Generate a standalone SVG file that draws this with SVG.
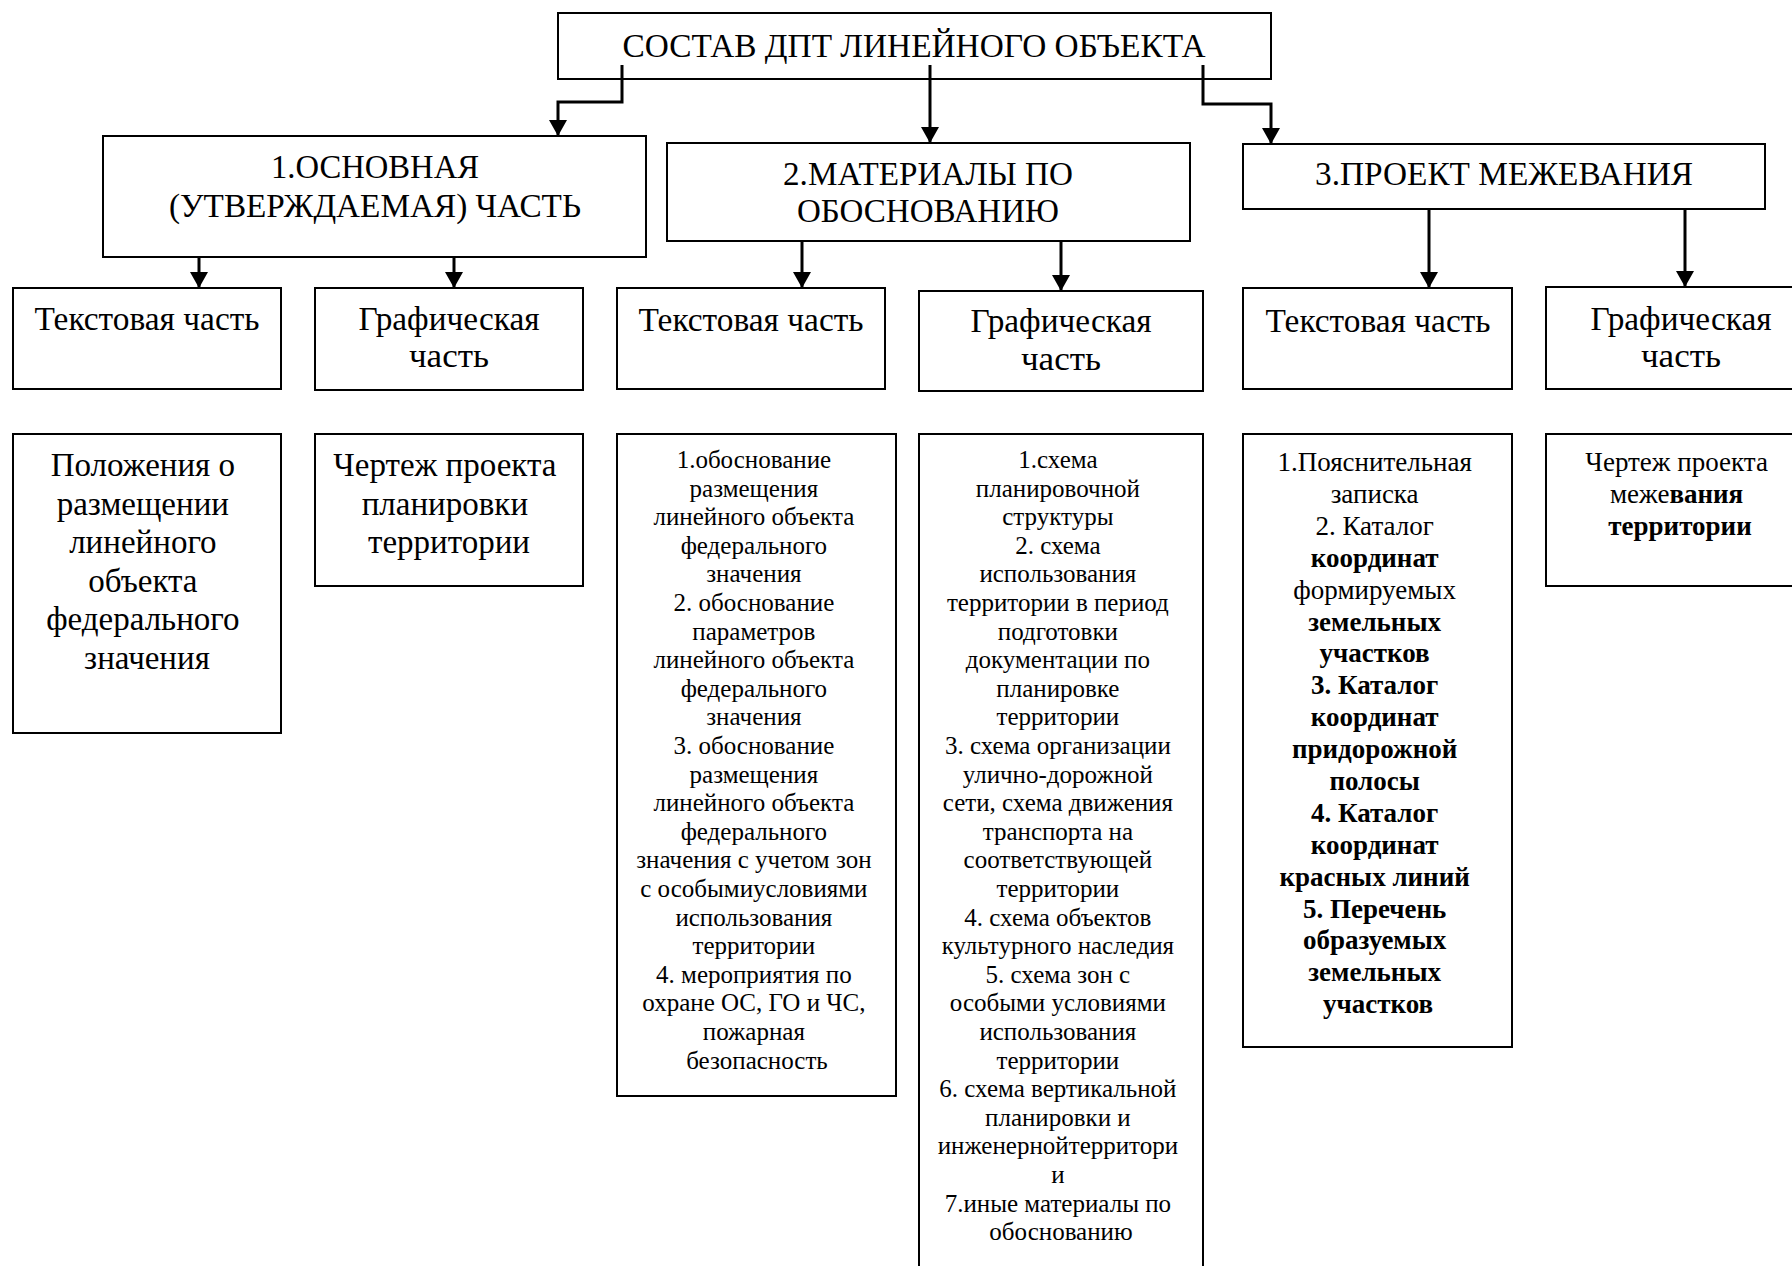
<svg xmlns="http://www.w3.org/2000/svg" width="1792" height="1266" viewBox="0 0 1792 1266">
<style>
.box{fill:#fff;stroke:#000;stroke-width:2}
.t{font-family:"Liberation Serif","Times New Roman",serif;fill:#000;text-anchor:middle}
.h{font-size:34px}
.m{font-size:33px}
.s{font-size:25px}
.k{font-size:27px}
.b{font-weight:bold}
.c{fill:none;stroke:#000;stroke-width:3}
</style>
<defs>
<marker id="ar" viewBox="0 0 16 18" refX="16" refY="9" markerWidth="16" markerHeight="18" markerUnits="userSpaceOnUse" orient="auto">
<path d="M0,0 L16,9 L0,18 z" fill="#000"/>
</marker>
</defs>
<rect width="1792" height="1266" fill="#fff"/>

<g id="root">
<rect class="box" x="558" y="13" width="713" height="66"/>
<text class="t h" x="914" y="57" textLength="583" lengthAdjust="spacingAndGlyphs">СОСТАВ ДПТ ЛИНЕЙНОГО ОБЪЕКТА</text>
</g>

<g id="main1">
<rect class="box" x="103" y="136" width="543" height="121"/>
<text class="t h" x="375" y="178" textLength="208" lengthAdjust="spacingAndGlyphs">1.ОСНОВНАЯ</text>
<text class="t h" x="375" y="217" textLength="412" lengthAdjust="spacingAndGlyphs">(УТВЕРЖДАЕМАЯ) ЧАСТЬ</text>
</g>
<g id="main2">
<rect class="box" x="667" y="143" width="523" height="98"/>
<text class="t h" x="928" y="185" textLength="290" lengthAdjust="spacingAndGlyphs">2.МАТЕРИАЛЫ ПО</text>
<text class="t h" x="928" y="222" textLength="262" lengthAdjust="spacingAndGlyphs">ОБОСНОВАНИЮ</text>
</g>
<g id="main3">
<rect class="box" x="1243" y="144" width="522" height="65"/>
<text class="t h" x="1504" y="185" textLength="378" lengthAdjust="spacingAndGlyphs">3.ПРОЕКТ МЕЖЕВАНИЯ</text>
</g>

<g id="text1">
<rect class="box" x="13" y="288" width="268" height="101"/>
<text class="t h" x="147" y="330" textLength="225" lengthAdjust="spacingAndGlyphs">Текстовая часть</text>
</g>
<g id="graph1">
<rect class="box" x="315" y="288" width="268" height="102"/>
<text class="t h" x="449" y="330" textLength="181" lengthAdjust="spacingAndGlyphs">Графическая</text>
<text class="t h" x="449" y="367" textLength="80" lengthAdjust="spacingAndGlyphs">часть</text>
</g>
<g id="text2">
<rect class="box" x="617" y="288" width="268" height="101"/>
<text class="t h" x="751" y="331" textLength="225" lengthAdjust="spacingAndGlyphs">Текстовая часть</text>
</g>
<g id="graph2">
<rect class="box" x="919" y="291" width="284" height="100"/>
<text class="t h" x="1061" y="332" textLength="181" lengthAdjust="spacingAndGlyphs">Графическая</text>
<text class="t h" x="1061" y="370" textLength="80" lengthAdjust="spacingAndGlyphs">часть</text>
</g>
<g id="text3">
<rect class="box" x="1243" y="288" width="269" height="101"/>
<text class="t h" x="1378" y="332" textLength="225" lengthAdjust="spacingAndGlyphs">Текстовая часть</text>
</g>
<g id="graph3">
<rect class="box" x="1546" y="287" width="270" height="102"/>
<text class="t h" x="1681" y="330" textLength="181" lengthAdjust="spacingAndGlyphs">Графическая</text>
<text class="t h" x="1681" y="367" textLength="80" lengthAdjust="spacingAndGlyphs">часть</text>
</g>

<g id="detail1a">
<rect class="box" x="13" y="434" width="268" height="299"/>
<text class="t m" x="147" y="476">
<tspan x="147">Положения о</tspan>
<tspan x="147" dy="38.6">размещении</tspan>
<tspan x="147" dy="38.6">линейного</tspan>
<tspan x="147" dy="38.6">объекта</tspan>
<tspan x="147" dy="38.6">федерального</tspan>
<tspan x="147" dy="38.6">значения</tspan>
</text>
</g>
<g id="detail1b">
<rect class="box" x="315" y="434" width="268" height="152"/>
<text class="t m" x="449" y="476">
<tspan x="449">Чертеж проекта</tspan>
<tspan x="449" dy="38.6">планировки</tspan>
<tspan x="449" dy="38.6">территории</tspan>
</text>
</g>
<g id="detail2a">
<rect class="box" x="617" y="434" width="279" height="662"/>
<text class="t s" x="757" y="468">
<tspan x="757">1.обоснование</tspan>
<tspan x="757" dy="28.6">размещения</tspan>
<tspan x="757" dy="28.6">линейного объекта</tspan>
<tspan x="757" dy="28.6">федерального</tspan>
<tspan x="757" dy="28.6">значения</tspan>
<tspan x="757" dy="28.6">2. обоснование</tspan>
<tspan x="757" dy="28.6">параметров</tspan>
<tspan x="757" dy="28.6">линейного объекта</tspan>
<tspan x="757" dy="28.6">федерального</tspan>
<tspan x="757" dy="28.6">значения</tspan>
<tspan x="757" dy="28.6">3. обоснование</tspan>
<tspan x="757" dy="28.6">размещения</tspan>
<tspan x="757" dy="28.6">линейного объекта</tspan>
<tspan x="757" dy="28.6">федерального</tspan>
<tspan x="757" dy="28.6">значения с учетом зон</tspan>
<tspan x="757" dy="28.6">с особымиусловиями</tspan>
<tspan x="757" dy="28.6">использования</tspan>
<tspan x="757" dy="28.6">территории</tspan>
<tspan x="757" dy="28.6">4. мероприятия по</tspan>
<tspan x="757" dy="28.6">охране ОС, ГО и ЧС,</tspan>
<tspan x="757" dy="28.6">пожарная</tspan>
<tspan x="757" dy="28.6">безопасность</tspan>
</text>
</g>
<g id="detail2b">
<rect class="box" x="919" y="434" width="284" height="850"/>
<text class="t s" x="1061" y="468">
<tspan x="1061">1.схема</tspan>
<tspan x="1061" dy="28.6">планировочной</tspan>
<tspan x="1061" dy="28.6">структуры</tspan>
<tspan x="1061" dy="28.6">2. схема</tspan>
<tspan x="1061" dy="28.6">использования</tspan>
<tspan x="1061" dy="28.6">территории в период</tspan>
<tspan x="1061" dy="28.6">подготовки</tspan>
<tspan x="1061" dy="28.6">документации по</tspan>
<tspan x="1061" dy="28.6">планировке</tspan>
<tspan x="1061" dy="28.6">территории</tspan>
<tspan x="1061" dy="28.6">3. схема организации</tspan>
<tspan x="1061" dy="28.6">улично-дорожной</tspan>
<tspan x="1061" dy="28.6">сети, схема движения</tspan>
<tspan x="1061" dy="28.6">транспорта на</tspan>
<tspan x="1061" dy="28.6">соответствующей</tspan>
<tspan x="1061" dy="28.6">территории</tspan>
<tspan x="1061" dy="28.6">4. схема объектов</tspan>
<tspan x="1061" dy="28.6">культурного наследия</tspan>
<tspan x="1061" dy="28.6">5. схема зон с</tspan>
<tspan x="1061" dy="28.6">особыми условиями</tspan>
<tspan x="1061" dy="28.6">использования</tspan>
<tspan x="1061" dy="28.6">территории</tspan>
<tspan x="1061" dy="28.6">6. схема вертикальной</tspan>
<tspan x="1061" dy="28.6">планировки и</tspan>
<tspan x="1061" dy="28.6">инженернойтерритори</tspan>
<tspan x="1061" dy="28.6">и</tspan>
<tspan x="1061" dy="28.6">7.иные материалы по</tspan>
<tspan x="1061" dy="28.6">обоснованию</tspan>
</text>
</g>
<g id="detail3a">
<rect class="box" x="1243" y="434" width="269" height="613"/>
<text class="t k" x="1378" y="471">
<tspan x="1378">1.Пояснительная</tspan>
<tspan x="1378" dy="31.9">записка</tspan>
<tspan x="1378" dy="31.9">2. Каталог</tspan>
<tspan x="1378" dy="31.9" class="b">координат</tspan>
<tspan x="1378" dy="31.9">формируемых</tspan>
<tspan x="1378" dy="31.9" class="b">земельных</tspan>
<tspan x="1378" dy="31.9" class="b">участков</tspan>
<tspan x="1378" dy="31.9" class="b">3. Каталог</tspan>
<tspan x="1378" dy="31.9" class="b">координат</tspan>
<tspan x="1378" dy="31.9" class="b">придорожной</tspan>
<tspan x="1378" dy="31.9" class="b">полосы</tspan>
<tspan x="1378" dy="31.9" class="b">4. Каталог</tspan>
<tspan x="1378" dy="31.9" class="b">координат</tspan>
<tspan x="1378" dy="31.9" class="b">красных линий</tspan>
<tspan x="1378" dy="31.9" class="b">5. Перечень</tspan>
<tspan x="1378" dy="31.9" class="b">образуемых</tspan>
<tspan x="1378" dy="31.9" class="b">земельных</tspan>
<tspan x="1378" dy="31.9" class="b">участков</tspan>
</text>
</g>
<g id="detail3b">
<rect class="box" x="1546" y="434" width="270" height="152"/>
<text class="t k" x="1680" y="471">
<tspan x="1680">Чертеж проекта</tspan>
<tspan x="1680" dy="32">меже<tspan class="b">вания</tspan></tspan>
<tspan x="1680" dy="32" class="b">территории</tspan>
</text>
</g>

<g id="connectors">
<path class="c" d="M622,65 V102 H558 V136" marker-end="url(#ar)"/>
<path class="c" d="M930,65 V143" marker-end="url(#ar)"/>
<path class="c" d="M1203,65 V104 H1271 V144" marker-end="url(#ar)"/>
<path class="c" d="M199,257 V288" marker-end="url(#ar)"/>
<path class="c" d="M454,257 V288" marker-end="url(#ar)"/>
<path class="c" d="M802,241 V288" marker-end="url(#ar)"/>
<path class="c" d="M1061,241 V291" marker-end="url(#ar)"/>
<path class="c" d="M1429,209 V288" marker-end="url(#ar)"/>
<path class="c" d="M1685,209 V287" marker-end="url(#ar)"/>
</g>
</svg>
